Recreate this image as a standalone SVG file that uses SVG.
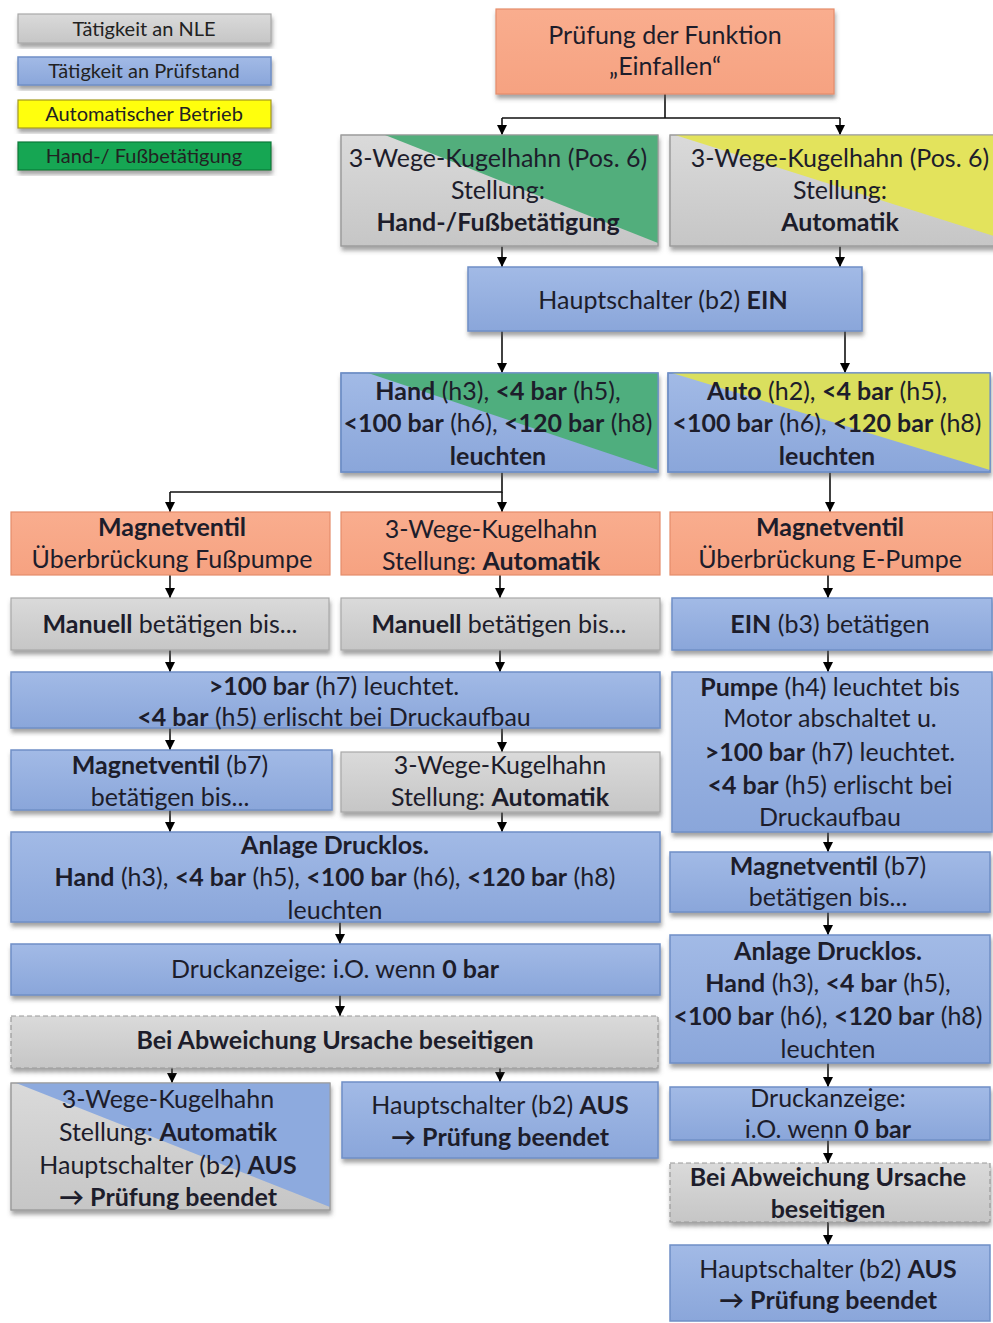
<svg xmlns="http://www.w3.org/2000/svg" width="993" height="1323" viewBox="0 0 993 1323">
<defs>
<linearGradient id="gBlue" x1="0" y1="0" x2="0" y2="1"><stop offset="0" stop-color="#A2BAE6"/><stop offset="1" stop-color="#8AA6DA"/></linearGradient>
<linearGradient id="gGray" x1="0" y1="0" x2="0" y2="1"><stop offset="0" stop-color="#DADADA"/><stop offset="1" stop-color="#C6C6C6"/></linearGradient>
<linearGradient id="gOr" x1="0" y1="0" x2="0" y2="1"><stop offset="0" stop-color="#F9AD8E"/><stop offset="1" stop-color="#F6A281"/></linearGradient>
<filter id="sh" x="-5%" y="-10%" width="110%" height="130%"><feDropShadow dx="1" dy="4" stdDeviation="2" flood-color="#555" flood-opacity="0.55"/></filter>
<marker id="ah" viewBox="0 0 10 10" refX="10" refY="5" markerWidth="10" markerHeight="10" markerUnits="userSpaceOnUse" orient="auto"><path d="M0,0 L10,5 L0,10 z" fill="#000"/></marker>
</defs>
<style>
.b{fill:url(#gBlue);stroke:#6F8FC6;stroke-width:1.5}
.g{fill:url(#gGray);stroke:#A9A9A9;stroke-width:1.2}
.o{fill:url(#gOr);stroke:#E58D6B;stroke-width:1.2}
.d{fill:url(#gGray);stroke:#9A9A9A;stroke-width:1.2;stroke-dasharray:5,3}
.s{filter:url(#sh)}
.ol{fill:none;stroke:#9A9A9A;stroke-width:1}
.t{font-family:Lato,"Liberation Sans",sans-serif;font-size:25px;fill:#1d1d2b;text-anchor:middle}
.lt{font-family:Lato,"Liberation Sans",sans-serif;font-size:20px;fill:#222;text-anchor:middle}
.bd{font-weight:bold}
.c{fill:none;stroke:#111;stroke-width:1.6}
.ca{fill:none;stroke:#111;stroke-width:1.6;marker-end:url(#ah)}
</style>
<rect width="993" height="1323" fill="#fff"/>

<g id="legend">
<rect class="g s" x="18" y="14" width="253" height="29"/>
<text class="lt" x="144" y="36">Tätigkeit an NLE</text>
<rect class="b s" x="18" y="57" width="253" height="28"/>
<text class="lt" x="144" y="78">Tätigkeit an Prüfstand</text>
<rect class="s" x="18" y="100" width="253" height="28" fill="#FFFF10" stroke="#A59A20" stroke-width="1.2"/>
<text class="lt" x="144" y="121">Automatischer Betrieb</text>
<rect class="s" x="18" y="142" width="253" height="28" fill="#12A653" stroke="#0D7A3A" stroke-width="1.2"/>
<text class="lt" x="144" y="163">Hand-/ Fußbetätigung</text>
</g>

<g id="connectors">
<path class="c" d="M665,94 V118 M502,118 H840"/>
<path class="ca" d="M502,118 V135"/>
<path class="ca" d="M840,118 V135"/>
<path class="ca" d="M502,246 V267"/>
<path class="ca" d="M840,246 V267"/>
<path class="ca" d="M502,331 V373"/>
<path class="ca" d="M845,331 V373"/>
<path class="c" d="M502,472 V492 H170"/>
<path class="ca" d="M170,492 V512"/>
<path class="ca" d="M502,492 V512"/>
<path class="ca" d="M830,472 V512"/>
<path class="ca" d="M170,575 V598"/>
<path class="ca" d="M500,575 V598"/>
<path class="ca" d="M828,575 V598"/>
<path class="ca" d="M170,650 V672"/>
<path class="ca" d="M500,650 V672"/>
<path class="ca" d="M828,650 V672"/>
<path class="ca" d="M170,728 V750"/>
<path class="ca" d="M502,728 V752"/>
<path class="ca" d="M170,810 V832"/>
<path class="ca" d="M502,812 V832"/>
<path class="ca" d="M340,922 V944"/>
<path class="ca" d="M340,995 V1016"/>
<path class="ca" d="M172,1068 V1083"/>
<path class="ca" d="M500,1068 V1082"/>
<path class="ca" d="M828,832 V852"/>
<path class="ca" d="M828,912 V935"/>
<path class="ca" d="M828,1063 V1087"/>
<path class="ca" d="M828,1140 V1163"/>
<path class="ca" d="M828,1222 V1245"/>
</g>

<g id="start">
<rect class="o s" x="496" y="9" width="338" height="85"/>
<text class="t" x="665" y="44">Prüfung der Funktion</text>
<text class="t" x="665" y="75">„Einfallen“</text>
</g>

<g id="kh-hand">
<rect class="g s" x="341" y="135" width="317" height="111"/>
<polygon points="385,135 658,135 658,243" fill="#52AE7C"/>
<rect class="ol" x="341" y="135" width="317" height="111"/>
<text class="t" x="498" y="167">3-Wege-Kugelhahn (Pos. 6)</text>
<text class="t" x="498" y="199">Stellung:</text>
<text class="t bd" x="498" y="231">Hand-/Fußbetätigung</text>
</g>

<g id="kh-auto">
<rect class="g s" x="670" y="135" width="330" height="111"/>
<polygon points="675,135 1000,135 1000,238" fill="#E3E35C"/>
<rect class="ol" x="670" y="135" width="330" height="111"/>
<text class="t" x="840" y="167">3-Wege-Kugelhahn (Pos. 6)</text>
<text class="t" x="840" y="199">Stellung:</text>
<text class="t bd" x="840" y="231">Automatik</text>
</g>

<g id="haupt-ein">
<rect class="b s" x="468" y="267" width="394" height="64"/>
<text class="t" x="663" y="309">Hauptschalter (b2) <tspan class="bd">EIN</tspan></text>
</g>

<g id="leuchten-hand">
<rect class="b s" x="341" y="373" width="317" height="99"/>
<polygon points="368,373 658,373 658,470" fill="#4FAE7E"/>
<rect x="341" y="373" width="317" height="99" fill="none" stroke="#6F8FC6" stroke-width="1.2"/>
<text class="t" x="498" y="400"><tspan class="bd">Hand</tspan> (h3), <tspan class="bd">&lt;4 bar</tspan> (h5),</text>
<text class="t" x="498" y="432"><tspan class="bd">&lt;100 bar</tspan> (h6), <tspan class="bd">&lt;120 bar</tspan> (h8)</text>
<text class="t bd" x="498" y="465">leuchten</text>
</g>

<g id="leuchten-auto">
<rect class="b s" x="668" y="373" width="322" height="99"/>
<polygon points="672,373 990,373 990,470" fill="#DADF5E"/>
<rect x="668" y="373" width="322" height="99" fill="none" stroke="#6F8FC6" stroke-width="1.2"/>
<text class="t" x="827" y="400"><tspan class="bd">Auto</tspan> (h2), <tspan class="bd">&lt;4 bar</tspan> (h5),</text>
<text class="t" x="827" y="432"><tspan class="bd">&lt;100 bar</tspan> (h6), <tspan class="bd">&lt;120 bar</tspan> (h8)</text>
<text class="t bd" x="827" y="465">leuchten</text>
</g>

<g id="mv-fuss">
<rect class="o" x="11" y="512" width="319" height="63"/>
<text class="t bd" x="172" y="536">Magnetventil</text>
<text class="t" x="172" y="568">Überbrückung Fußpumpe</text>
</g>

<g id="kh-auto2">
<rect class="o" x="341" y="512" width="319" height="63"/>
<text class="t" x="491" y="538">3-Wege-Kugelhahn</text>
<text class="t" x="491" y="570">Stellung: <tspan class="bd">Automatik</tspan></text>
</g>

<g id="mv-epumpe">
<rect class="o" x="670" y="512" width="323" height="63"/>
<text class="t bd" x="830" y="536">Magnetventil</text>
<text class="t" x="830" y="568">Überbrückung E-Pumpe</text>
</g>

<g id="manuell1">
<rect class="g s" x="11" y="598" width="318" height="52"/>
<text class="t" x="170" y="633"><tspan class="bd">Manuell</tspan> betätigen bis...</text>
</g>

<g id="manuell2">
<rect class="g s" x="341" y="598" width="319" height="52"/>
<text class="t" x="499" y="633"><tspan class="bd">Manuell</tspan> betätigen bis...</text>
</g>

<g id="ein-b3">
<rect class="b s" x="672" y="598" width="320" height="52"/>
<text class="t" x="830" y="633"><tspan class="bd">EIN</tspan> (b3) betätigen</text>
</g>

<g id="druckaufbau">
<rect class="b s" x="11" y="672" width="649" height="56"/>
<text class="t" x="334" y="695"><tspan class="bd">&gt;100 bar</tspan> (h7) leuchtet.</text>
<text class="t" x="334" y="726"><tspan class="bd">&lt;4 bar</tspan> (h5) erlischt bei Druckaufbau</text>
</g>

<g id="pumpe">
<rect class="b s" x="672" y="672" width="320" height="160"/>
<text class="t" x="830" y="696"><tspan class="bd">Pumpe</tspan> (h4) leuchtet bis</text>
<text class="t" x="830" y="727">Motor abschaltet u.</text>
<text class="t" x="830" y="761"><tspan class="bd">&gt;100 bar</tspan> (h7) leuchtet.</text>
<text class="t" x="830" y="794"><tspan class="bd">&lt;4 bar</tspan> (h5) erlischt bei</text>
<text class="t" x="830" y="826">Druckaufbau</text>
</g>

<g id="mv-b7">
<rect class="b s" x="11" y="750" width="321" height="60"/>
<text class="t" x="170" y="774"><tspan class="bd">Magnetventil</tspan> (b7)</text>
<text class="t" x="170" y="806">betätigen bis...</text>
</g>

<g id="kh-auto3">
<rect class="g s" x="341" y="752" width="319" height="60"/>
<text class="t" x="500" y="774">3-Wege-Kugelhahn</text>
<text class="t" x="500" y="806">Stellung: <tspan class="bd">Automatik</tspan></text>
</g>

<g id="mv-b7-r">
<rect class="b s" x="670" y="852" width="320" height="60"/>
<text class="t" x="828" y="875"><tspan class="bd">Magnetventil</tspan> (b7)</text>
<text class="t" x="828" y="906">betätigen bis...</text>
</g>

<g id="drucklos">
<rect class="b s" x="11" y="832" width="649" height="90"/>
<text class="t bd" x="335" y="854">Anlage Drucklos.</text>
<text class="t" x="335" y="886"><tspan class="bd">Hand</tspan> (h3), <tspan class="bd">&lt;4 bar</tspan> (h5), <tspan class="bd">&lt;100  bar</tspan> (h6), <tspan class="bd">&lt;120 bar</tspan> (h8)</text>
<text class="t" x="335" y="919">leuchten</text>
</g>

<g id="drucklos-r">
<rect class="b s" x="670" y="935" width="320" height="128"/>
<text class="t bd" x="828" y="960">Anlage Drucklos.</text>
<text class="t" x="828" y="992"><tspan class="bd">Hand</tspan> (h3), <tspan class="bd">&lt;4 bar</tspan> (h5),</text>
<text class="t" x="828" y="1025"><tspan class="bd">&lt;100 bar</tspan> (h6), <tspan class="bd">&lt;120 bar</tspan> (h8)</text>
<text class="t" x="828" y="1058">leuchten</text>
</g>

<g id="druckanzeige">
<rect class="b s" x="11" y="944" width="649" height="51"/>
<text class="t" x="335" y="978">Druckanzeige: i.O. wenn <tspan class="bd">0 bar</tspan></text>
</g>

<g id="druckanzeige-r">
<rect class="b s" x="670" y="1087" width="320" height="53"/>
<text class="t" x="828" y="1107">Druckanzeige:</text>
<text class="t" x="828" y="1138">i.O. wenn <tspan class="bd">0 bar</tspan></text>
</g>

<g id="abweichung">
<rect class="d s" x="11" y="1016" width="647" height="52"/>
<text class="t bd" x="335" y="1049">Bei Abweichung Ursache beseitigen</text>
</g>

<g id="abweichung-r">
<rect class="d s" x="670" y="1163" width="320" height="59"/>
<text class="t bd" x="828" y="1186">Bei Abweichung Ursache</text>
<text class="t bd" x="828" y="1218">beseitigen</text>
</g>

<g id="ende-links">
<rect class="g s" x="11" y="1083" width="319" height="127"/>
<polygon points="16,1083 330,1083 330,1207" fill="#8DAADE"/>
<rect class="ol" x="11" y="1083" width="319" height="127"/>
<text class="t" x="168" y="1108">3-Wege-Kugelhahn</text>
<text class="t" x="168" y="1141">Stellung: <tspan class="bd">Automatik</tspan></text>
<text class="t" x="168" y="1174">Hauptschalter (b2) <tspan class="bd">AUS</tspan></text>
<text class="t bd" x="168" y="1206">→ Prüfung beendet</text>
</g>

<g id="ende-mitte">
<rect class="b s" x="342" y="1082" width="316" height="76"/>
<text class="t" x="500" y="1114">Hauptschalter (b2) <tspan class="bd">AUS</tspan></text>
<text class="t bd" x="500" y="1146">→ Prüfung beendet</text>
</g>

<g id="ende-rechts">
<rect class="b" x="670" y="1245" width="320" height="76"/>
<text class="t" x="828" y="1278">Hauptschalter (b2) <tspan class="bd">AUS</tspan></text>
<text class="t bd" x="828" y="1309">→ Prüfung beendet</text>
</g>
</svg>
